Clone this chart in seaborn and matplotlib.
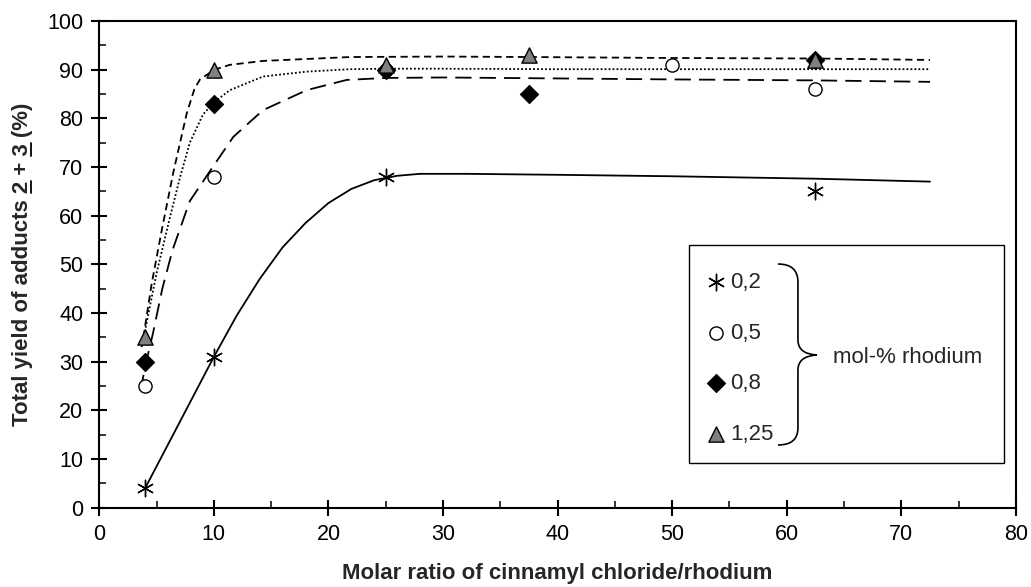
import numpy as np
import pandas as pd
import matplotlib
matplotlib.use("Agg")
import matplotlib.pyplot as plt
from matplotlib.path import Path
from matplotlib.patches import PathPatch, Rectangle
from matplotlib.lines import Line2D
from matplotlib.ticker import MultipleLocator
import seaborn as sns

# measured points (mol-% rhodium -> molar ratio, total yield %)
series_labels = ["0,2", "0,5", "0,8", "1,25"]

x_02 = [4, 10, 25, 62.5]
y_02 = [4, 31, 68, 65]
x_05 = [4, 10, 25, 50, 62.5]
y_05 = [25, 68, 90, 91, 86]
x_08 = [4, 10, 25, 37.5, 62.5]
y_08 = [30, 83, 90, 85, 92]
x_125 = [4, 10, 25, 37.5, 62.5]
y_125 = [35, 90, 91, 93, 92]

# trend curves
cx_02 = [4, 6, 8, 10, 12, 14, 16, 18, 20, 22, 24, 26, 28, 32, 40, 50, 62.5, 72.5]
cy_02 = [4, 13, 22, 31, 39.5, 47, 53.5, 58.5, 62.6, 65.5, 67.3, 68.2, 68.6, 68.6, 68.4, 68.1, 67.6, 67]
cx_05 = [3.6, 4.0, 4.7, 5.5, 6.4, 7.9, 9.9, 11.7, 14.3, 18.1, 21.6, 25, 30, 40, 50, 62.5, 72.5]
cy_05 = [24, 29, 36, 45, 53, 63, 70, 76.2, 81.7, 85.8, 87.9, 88.3, 88.4, 88.2, 88, 87.8, 87.5]
cx_08 = [3.7, 4.0, 5.0, 6.2, 7.06, 7.9, 9.05, 10.06, 11.4, 14.3, 18.1, 21.9, 25, 30, 40, 50, 62.5, 72.5]
cy_08 = [33, 36.5, 48.2, 60, 68, 75, 80.8, 83.4, 85.8, 88.6, 89.6, 90.1, 90.2, 90.2, 90.1, 90.1, 90.1, 90.1]
cx_125 = [3.85, 4.57, 5.45, 6.47, 7.63, 8.3, 8.79, 10.04, 11.4, 14.3, 21.9, 30, 37.5, 50, 62.5, 72.5]
cy_125 = [35, 46, 57, 69, 81, 86, 88, 90, 91, 91.8, 92.6, 92.7, 92.6, 92.4, 92.3, 92]

points = [(x_02, y_02), (x_05, y_05), (x_08, y_08), (x_125, y_125)]
curves = [(cx_02, cy_02), (cx_05, cy_05), (cx_08, cy_08), (cx_125, cy_125)]

sns.set_theme(style="white")
plt.rcParams["font.family"] = ["Liberation Sans", "DejaVu Sans"]

fig = plt.figure(figsize=(10.31, 5.87), dpi=100)
ax = fig.add_axes([0.0963, 0.1351, 0.8891, 0.8291])

# line styles: solid, long dash, dotted, short dash
dash_styles = [None, (9, 4.5), (1, 1.2), (4, 2.5)]
for (cx, cy), d in zip(curves, dash_styles):
    df = pd.DataFrame({"x": cx, "y": cy})
    sns.lineplot(data=df, x="x", y="y", ax=ax, color="black", lw=1.3,
                 sort=False, estimator=None)
    if d is not None:
        ax.lines[-1].set_dashes(d)

marker_styles = [
    dict(marker=(6, 2, 0), s=140, color="black", linewidth=1.0),
    dict(marker="o", s=90, facecolor="white", edgecolor="black", linewidth=1.0),
    dict(marker="D", s=85, color="black", edgecolor="black", linewidth=0.8),
    dict(marker="^", s=120, facecolor="#808080", edgecolor="black", linewidth=1.0),
]
handles = []
for (px, py), st, lab in zip(points, marker_styles, series_labels):
    df = pd.DataFrame({"x": px, "y": py})
    sns.scatterplot(data=df, x="x", y="y", ax=ax, zorder=5, **st)
    handles.append(ax.collections[-1])

ax.set_xlim(0, 80)
ax.set_ylim(0, 100)
ax.xaxis.set_major_locator(MultipleLocator(10))
ax.xaxis.set_minor_locator(MultipleLocator(5))
ax.yaxis.set_major_locator(MultipleLocator(10))
ax.yaxis.set_minor_locator(MultipleLocator(5))
ax.tick_params(which="major", direction="inout", length=11, width=1.5,
               labelsize=15.5, colors="black", pad=6)
ax.tick_params(which="minor", direction="in", length=5, width=1.3)
ax.tick_params(axis="x", which="both", bottom=True, top=False)
ax.tick_params(axis="y", which="both", left=True, right=False)
for sp in ax.spines.values():
    sp.set_color("black")
    sp.set_linewidth(1.5)

ax.set_xlabel("Molar ratio of cinnamyl chloride/rhodium", fontsize=16,
              fontweight="bold", labelpad=13)
ylab_pre = "Total yield of adducts "
ylab_text = ylab_pre + "2 + 3 (%)"
ax.set_ylabel(ylab_text, fontsize=16, fontweight="bold", labelpad=10)

# legend box with brace
def fr(px, py):
    return ((px - 99.3) / 916.7, (507.7 - py) / 486.7)

bx0, by0 = fr(689, 463)
bx1, by1 = fr(1004, 245)
ax.add_patch(Rectangle((bx0, by0), bx1 - bx0, by1 - by0, transform=ax.transAxes,
                       facecolor="white", edgecolor="black", lw=1.0, zorder=6))

leg = ax.legend(handles, series_labels, loc="upper left",
                bbox_to_anchor=fr(707, 272), frameon=False, fontsize=16,
                handlelength=0.85, handletextpad=0.2, labelspacing=1.33,
                borderpad=0, borderaxespad=0, scatterpoints=1)
leg.set_zorder(7)

verts = [fr(778, 264), fr(798, 264), fr(798, 282), fr(798, 340),
         fr(798, 354), fr(817, 355), fr(798, 356), fr(798, 370),
         fr(798, 428), fr(798, 445), fr(778, 445)]
codes = [Path.MOVETO, Path.CURVE3, Path.CURVE3, Path.LINETO,
         Path.CURVE3, Path.CURVE3, Path.CURVE3, Path.CURVE3,
         Path.LINETO, Path.CURVE3, Path.CURVE3]
ax.add_patch(PathPatch(Path(verts, codes), transform=ax.transAxes, fill=False,
                       edgecolor="black", lw=1.2, zorder=7))
tx, ty = fr(833, 357)
ax.text(tx, ty, "mol-% rhodium", transform=ax.transAxes, fontsize=16,
        va="center", ha="left", zorder=7)

# underline the compound numbers 2 and 3 in the y label
fig.canvas.draw()
rend = fig.canvas.get_renderer()
ylab = ax.yaxis.label
bb = ylab.get_window_extent(rend)
prop = ylab.get_fontproperties()
_, _, desc = rend.get_text_width_height_descent("lp", prop, ismath=False)
base_x = bb.x1 - desc + 2.5
W, H = fig.get_size_inches() * fig.dpi
for pre, ch in [(ylab_pre, "2"), (ylab_pre + "2 + ", "3")]:
    w_pre, _, _ = rend.get_text_width_height_descent(pre, prop, ismath=False)
    w_ch, _, _ = rend.get_text_width_height_descent(ch, prop, ismath=False)
    y0 = bb.y0 + w_pre
    fig.add_artist(Line2D([base_x / W, base_x / W], [y0 / H, (y0 + w_ch) / H],
                          transform=fig.transFigure, color="black", lw=1.3))

fig.savefig("out.png", dpi=100)
